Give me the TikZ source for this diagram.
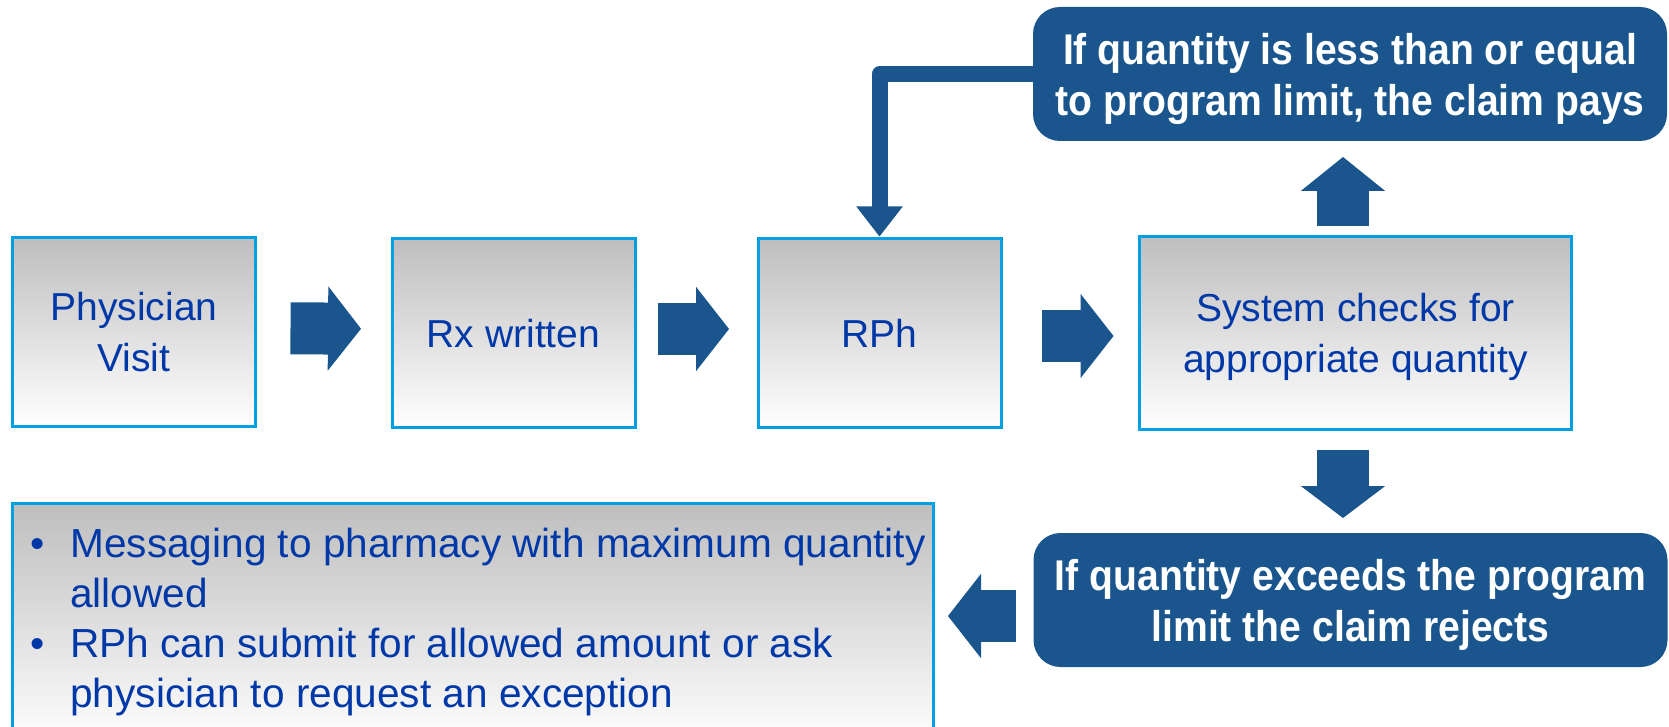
\documentclass[tikz,border=0pt]{standalone}
\usepackage{fontspec}
\setmainfont{Liberation Sans}
\newfontfamily\condbold{Liberation Sans Bold}[FakeStretch=0.91]
\usetikzlibrary{arrows.meta,calc}
\definecolor{boxline}{RGB}{0,160,226}
\definecolor{navy}{RGB}{26,86,141}
\definecolor{txtblue}{RGB}{0,56,168}
\definecolor{topgray}{RGB}{190,190,190}
\begin{document}
\begin{tikzpicture}[x=0.5pt,y=-0.5pt,
  procbox/.style={draw=boxline, line width=1.5pt, top color=topgray, bottom color=white,
    minimum width=121.5pt, minimum height=94.5pt, inner sep=0pt, outer sep=0pt,
    align=center, text=txtblue, font=\fontsize{19.5}{25.5}\selectfont, text depth=0pt},
  decbox/.style={fill=navy, rounded corners=13.5pt, minimum width=317pt, minimum height=67pt,
    inner sep=0pt, outer sep=0pt, align=center, text=white,
    font=\condbold\fontsize{21.5}{25.5}\selectfont, text depth=0pt},
  blockarr/.style={draw=navy, line width=26pt,
    -{Triangle[length=16.5pt,width=42pt,line width=1.2pt]}},
  elbowarr/.style={draw=navy, line width=8pt, line join=round,
    -{Triangle[length=15pt,width=23pt,line width=1pt]}}
]
\useasboundingbox (0,0) rectangle (1669,727);
\clip (0,0) rectangle (1669,727);

% process boxes
\node[procbox] (phys) at (134,332) {Physician\\Visit};
\node[procbox] (rx) at (513.5,333) {Rx written};
\node[procbox] (rph) at (879.5,333) {RPh};
\node[procbox, minimum width=216pt, minimum height=96.5pt] (sys) at (1355.5,333)
  {System checks for\\appropriate quantity};

% decision boxes
\node[decbox] (pays) at (1350,74) {If quantity is less than or equal\\to program limit, the claim pays};
\node[decbox] (rej) at (1350.5,600) {If quantity exceeds the program\\limit the claim rejects};

% message box
\node[procbox, minimum width=460.5pt, minimum height=121pt] (msgbox) at (473,624.25) {};
\node[anchor=base west, inner sep=0pt, text=txtblue] (msgtext) at (30,557)
  {\parbox[t]{450pt}{\raggedright\fontsize{20.3}{25}\selectfont
   \makebox[20pt][l]{\textbullet}Messaging to pharmacy with maximum quantity\\
   \hspace*{20pt}allowed\\
   \makebox[20pt][l]{\textbullet}RPh can submit for allowed amount or ask\\
   \hspace*{20pt}physician to request an exception}};

% connectors
\draw[blockarr, shorten <=17.5pt, shorten >=15.5pt] ([yshift=2pt]phys.east) -- ([yshift=2pt]rx.west);
\draw[blockarr, shorten <=11.5pt, shorten >=14.5pt] ([yshift=2pt]rx.east) -- ([yshift=2pt]rph.west);
\draw[blockarr, shorten <=20.5pt, shorten >=13pt] ([yshift=-1.5pt]rph.east) -- ([yshift=-1.5pt]sys.west);
\coordinate (upstart) at ([xshift=-6.25pt]sys.north);
\coordinate (dnstart) at ([xshift=-6.25pt]sys.south);
\draw[blockarr, -{Triangle[length=17pt,width=42pt,line width=1.2pt]}, shorten <=5.25pt, shorten >=8pt]
  (upstart) -- (upstart |- pays.south);
\draw[blockarr, -{Triangle[length=16pt,width=42pt,line width=1.2pt]}, shorten <=10.25pt, shorten >=7.5pt]
  (dnstart) -- (dnstart |- rej.north);
\coordinate (lft) at ([yshift=-8pt]rej.west);
\draw[blockarr, shorten <=9pt, shorten >=7.25pt] (lft) -- (lft -| msgbox.east);
\draw[elbowarr, shorten >=1pt] (pays.west) -| (rph.north);
\end{tikzpicture}
\end{document}
